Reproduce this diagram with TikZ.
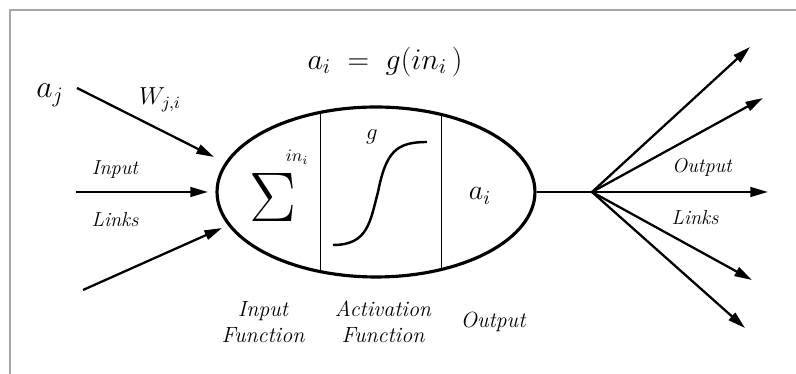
\RequirePackage{fix-cm}
\documentclass[tikz,border=0pt]{standalone}
\usetikzlibrary{arrows.meta,shapes.geometric}
\begin{document}
\begin{tikzpicture}[x=0.02cm,y=-0.02cm,>={Triangle[length=10pt,width=5.5pt]},
  link/.style={->, line width=1.3pt},
  smalllab/.style={font=\fontsize{11.5}{11.5}\selectfont\itshape},
  funlab/.style={align=center, font=\fontsize{12.5}{15}\selectfont\itshape}]
\useasboundingbox (0,0) rectangle (796,374);
\draw[gray!70, line width=1.2pt] (10,380) -- (10,10) -- (800,10);

\node[draw, ellipse, line width=1.8pt, inner sep=0pt, minimum width=6.36cm, minimum height=3.4cm] (neuron) at (376,192) {};
\draw[line width=0.5pt] (320,112) -- (320,272);
\draw[line width=0.5pt] (441,114) -- (441,270);

\node[inner sep=0pt] (sum) at (273,197) {\fontsize{40}{40}\selectfont$\Sigma$};
\node[inner sep=0pt] (ini) at (297,157) {\fontsize{10}{10}\selectfont$in_i$};
\node (g) at (372,137) {\fontsize{13}{13}\selectfont$g$};
\draw[line width=1.4pt] (333,245) .. controls (368,245) and (370,222) .. (378,192) .. controls (386,152) and (396,142) .. (427,142);
\node (ai) at (480,196) {\fontsize{16}{16}\selectfont$a_i$};

\node (title) at (385,62) {\fontsize{17}{17}\selectfont$a_i \;=\; g(in_i\,)$};
\node (aj) at (50,95) {\fontsize{18}{18}\selectfont$a_j$};
\node (wji) at (160,100) {\fontsize{14}{14}\selectfont$W_{j,i}$};

\coordinate (src1) at (77,88);
\coordinate (src2) at (76,192);
\coordinate (src3) at (83,290);
\coordinate (dst1) at (214,157);
\coordinate (dst2) at (208,192);
\coordinate (dst3) at (222,228);
\draw[link] (src1) -- (dst1);
\draw[link] (src2) -- (dst2);
\draw[link] (src3) -- (dst3);

\node[smalllab] (inlab) at (115,170) {Input};
\node[smalllab] (linkl) at (115,220) {Links};

\coordinate (hub) at (592,192);
\draw[line width=1.3pt] (neuron.east) -- (hub);
\coordinate (out1) at (750,47);
\coordinate (out2) at (763,98);
\coordinate (out3) at (768,192);
\coordinate (out4) at (752,280);
\coordinate (out5) at (745,328);
\foreach \o in {out1,out2,out3,out4,out5}
  \draw[link] (hub) -- (\o);

\node[smalllab] (outlab) at (702,167) {Output};
\node[smalllab] (linkr) at (695,218) {Links};

\node[funlab] (infun) at (263,322) {Input\\ Function};
\node[funlab] (actfun) at (383,322) {Activation\\ Function};
\node[funlab] (outfun) at (493,322) {Output};
\end{tikzpicture}
\end{document}
